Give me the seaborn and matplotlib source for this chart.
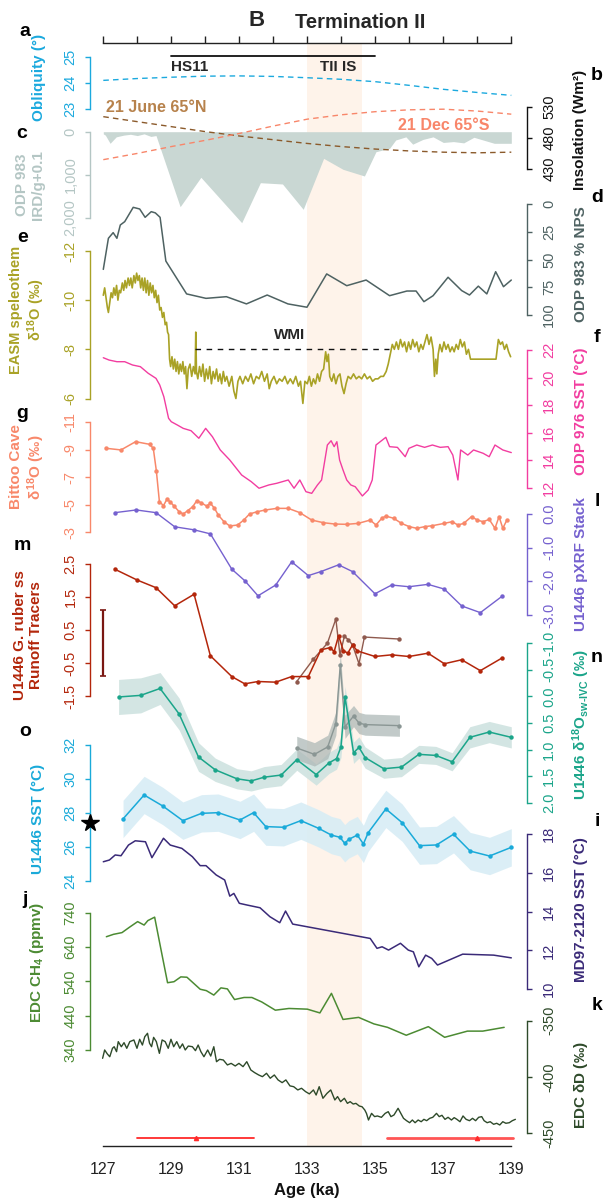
import numpy as np
import pandas as pd
import matplotlib
matplotlib.use("Agg")
import matplotlib.pyplot as plt
import matplotlib.transforms as mtransforms
import seaborn as sns

sns.set_style("white")
plt.rcParams['font.family'] = ['Liberation Sans', 'DejaVu Sans']
plt.rcParams['mathtext.fontset'] = 'custom'
plt.rcParams['mathtext.rm'] = 'Liberation Sans:bold'
plt.rcParams['mathtext.it'] = 'Liberation Sans:bold'
plt.rcParams['mathtext.bf'] = 'Liberation Sans:bold'
plt.rcParams['mathtext.sf'] = 'Liberation Sans:bold'
plt.rcParams['axes.unicode_minus'] = False

# ---------------- data ----------------
obl_age = [127, 128, 129, 130, 131, 132, 133, 134, 135, 136, 137, 138, 139]
obl_val = [24.10, 24.17, 24.22, 24.26, 24.27, 24.25, 24.20, 24.14, 24.05, 23.91, 23.76, 23.64, 23.53]

ins_age = [127, 128, 129, 130, 131, 132, 133, 134, 135, 136, 137, 138, 139]
june65n = [514, 506, 498, 490, 483, 477, 471, 466, 462, 459, 457, 456, 457]
dec65s = [445, 455, 466, 476, 487, 499, 510, 517, 522, 525, 526, 523, 518]

ird_age = [127.0, 127.06, 127.2, 127.38, 127.6, 127.8, 128.0, 128.2, 128.4, 128.55, 129.26, 129.87,
           131.07, 131.62, 132.27, 132.88, 133.48, 134.05, 134.68, 135.02, 135.42, 135.6, 135.9,
           136.1, 136.4, 136.7, 137.0, 137.3, 137.6, 137.9, 138.2, 138.5, 138.8, 139.0]
ird_val = [50, 80, 270, 120, 80, 60, 90, 50, 110, 90, 1744, 1060, 2116, 1186, 1216, 1805, 620, 875,
           1030, 465, 386, 193, 120, 290, 180, 120, 250, 230, 260, 130, 200, 270, 270, 270]

nps_age = [127.0, 127.15, 127.29, 127.4, 127.5, 127.63, 127.88, 128.07, 128.23, 128.41, 128.53, 128.67,
           128.84, 129.45, 130.02, 130.62, 131.21, 131.82, 132.43, 132.99, 133.57, 134.16, 134.73,
           135.42, 135.93, 136.2, 136.43, 136.7, 137.14, 137.54, 137.77, 138.03, 138.28, 138.54,
           138.77, 139.0]
nps_val = [58.9, 30.9, 25.8, 30.9, 18.9, 15.9, 3, 4.5, 12, 6.9, 8, 12, 51.4, 81, 85, 83.5, 90, 82, 90,
           93, 63, 73.6, 68.5, 82.6, 78.4, 78.4, 88, 82.6, 66, 78, 82, 74, 81, 61, 74.5, 68.5]

easm_age = [127.00, 127.04, 127.08, 127.12, 127.15, 127.19, 127.23, 127.27, 127.31, 127.35, 127.39,
            127.43, 127.47, 127.51, 127.56, 127.60, 127.64, 127.68, 127.73, 127.77, 127.81, 127.85,
            127.90, 127.94, 127.98, 128.02, 128.06, 128.10, 128.14, 128.18, 128.22, 128.26, 128.30,
            128.34, 128.38, 128.42, 128.46, 128.50, 128.54, 128.58, 128.62, 128.66, 128.70, 128.74,
            128.78, 128.82, 128.86, 128.89, 128.92, 128.95, 128.98, 129.02, 129.06, 129.10, 129.14,
            129.18, 129.22, 129.26, 129.30, 129.34, 129.38, 129.42, 129.46, 129.50, 129.55, 129.60,
            129.65, 129.70, 129.72, 129.74, 129.78, 129.83, 129.88, 129.93, 129.98, 130.03, 130.08,
            130.13, 130.18, 130.23, 130.28, 130.33, 130.38, 130.43, 130.48, 130.53, 130.58, 130.63,
            130.70, 130.78, 130.84, 130.90, 130.96, 131.02, 131.10, 131.18, 131.26, 131.34, 131.42,
            131.50, 131.58, 131.66, 131.74, 131.82, 131.88, 131.94, 132.02, 132.10, 132.18, 132.26,
            132.34, 132.42, 132.50, 132.58, 132.66, 132.74, 132.80, 132.87, 132.93, 133.00, 133.06,
            133.12, 133.18, 133.24, 133.30, 133.36, 133.42, 133.48, 133.54, 133.58, 133.62, 133.66,
            133.72, 133.78, 133.84, 133.90, 133.96, 134.02, 134.08, 134.14, 134.20, 134.28, 134.36,
            134.44, 134.52, 134.60, 134.68, 134.76, 134.84, 134.92, 135.00, 135.08, 135.16, 135.24,
            135.32, 135.38, 135.44, 135.50, 135.56, 135.62, 135.68, 135.74, 135.80, 135.86, 135.92,
            135.98, 136.04, 136.10, 136.16, 136.22, 136.28, 136.34, 136.40, 136.46, 136.52, 136.58,
            136.64, 136.70, 136.74, 136.78, 136.81, 136.85, 136.90, 136.96, 137.02, 137.08, 137.14,
            137.20, 137.26, 137.32, 137.38, 137.44, 137.50, 137.56, 137.62, 137.68, 137.74, 137.80,
            137.90, 138.00, 138.20, 138.40, 138.55, 138.62, 138.68, 138.74, 138.80, 138.86, 138.92,
            138.98]
easm_val = [-10.2, -10.5, -10.1, -9.7, -9.5, -9.9, -10.3, -10.1, -10.5, -10.2, -10.6,
            -10.0, -10.4, -10.3, -10.7, -10.4, -10.8, -10.5, -10.9, -10.6, -10.9, -10.5,
            -11.0, -10.7, -11.1, -10.8, -11.0, -10.5, -10.9, -10.4, -10.9, -10.3, -10.8,
            -10.2, -10.7, -10.3, -10.6, -10.1, -10.4, -9.9, -10.2, -9.6, -9.7, -9.3,
            -9.5, -9.0, -9.1, -8.7, -8.6, -7.6, -7.3, -7.7, -7.2, -7.6, -7.1,
            -7.5, -7.0, -7.4, -7.1, -7.5, -7.0, -7.3, -6.4, -7.2, -7.4, -6.9,
            -7.3, -7.0, -8.7, -7.1, -6.8, -7.3, -6.9, -7.4, -6.7, -7.2, -6.8,
            -7.3, -6.6, -7.1, -6.8, -7.2, -6.7, -7.0, -6.6, -7.1, -6.7, -6.9,
            -6.5, -6.9, -6.3, -6.0, -6.7, -6.9, -6.6, -6.9, -6.7, -7.0, -6.6,
            -6.9, -6.8, -7.1, -6.7, -7.0, -6.4, -6.7, -6.9, -6.6, -6.8, -6.7,
            -6.9, -6.6, -6.8, -6.6, -6.9, -6.5, -6.7, -5.8, -6.7, -6.6, -6.9,
            -6.5, -6.8, -6.6, -7.0, -6.7, -7.1, -7.2, -7.9, -7.5, -7.8, -6.9,
            -6.7, -7.0, -6.6, -6.9, -7.0, -6.5, -6.2, -6.6, -6.9, -6.8, -7.0,
            -6.8, -6.9, -6.8, -7.0, -6.8, -6.9, -6.7, -6.8, -6.8, -6.9, -6.9,
            -7.1, -7.4, -7.8, -8.2, -8.0, -8.3, -8.0, -8.4, -8.1, -8.3, -7.9,
            -8.3, -8.0, -8.4, -8.1, -8.3, -7.9, -8.2, -8.0, -8.3, -8.6, -8.2,
            -8.5, -8.0, -6.9, -7.6, -7.0, -7.8, -8.2, -7.9, -8.3, -8.0, -8.2,
            -7.9, -8.1, -7.9, -8.2, -8.0, -8.4, -8.1, -8.3, -7.8, -8.0, -7.6,
            -7.6, -7.6, -7.6, -7.6, -7.6, -8.4, -8.2, -8.3, -8.0, -8.2, -7.9,
            -7.7]
wmi_age = [129.7, 135.4]
wmi_val = [-8.0, -8.0]

sst976_age = [127.0, 127.17, 127.4, 127.63, 127.86, 128.09, 128.32, 128.55, 128.66, 128.78, 128.92,
              129.0, 129.18, 129.35, 129.58, 129.81, 130.01, 130.21, 130.44, 130.72, 131.07, 131.35,
              131.58, 131.87, 132.1, 132.44, 132.61, 132.78, 132.96, 133.13, 133.3, 133.42, 133.59,
              133.7, 133.79, 133.87, 133.95, 134.05, 134.16, 134.28, 134.41, 134.62, 134.79, 134.91,
              135.02, 135.31, 135.42, 135.65, 135.88, 135.99, 136.22, 136.45, 136.68, 136.91, 137.14,
              137.28, 137.43, 137.51, 137.72, 137.89, 138.17, 138.35, 138.52, 138.75, 139.0]
sst976_val = [21.44, 21.27, 21.15, 21.15, 20.91, 20.79, 20.31, 19.94, 19.46, 18.61, 17.04,
              16.79, 16.55, 16.31, 16.14, 15.59, 16.31, 15.7, 14.74, 14.01, 12.92, 12.44,
              11.96, 12.2, 12.32, 12.56, 11.96, 12.56, 11.71, 11.59, 12.2, 12.56, 15.1,
              15.41, 14.98, 15.34, 14.01, 13.29, 12.56, 12.2, 12.07, 11.4, 11.83, 12.56,
              15.1, 15.66, 14.98, 14.93, 14.25, 14.86, 15.1, 14.93, 15.1, 14.93, 14.98,
              14.37, 12.56, 14.74, 14.37, 14.74, 14.5, 14.25, 15.1, 14.74, 14.55]

bittoo_age = [127.08, 127.52, 127.95, 128.36, 128.47, 128.56, 128.65, 128.77, 128.87, 128.96, 129.08,
              129.23, 129.35, 129.48, 129.63, 129.75, 129.87, 130.04, 130.15, 130.27, 130.38, 130.55,
              130.72, 130.95, 131.13, 131.3, 131.53, 131.76, 132.1, 132.44, 132.78, 133.13, 133.47,
              133.81, 134.16, 134.5, 134.85, 135.02, 135.19, 135.31, 135.54, 135.77, 136.0, 136.22,
              136.45, 136.68, 137.03, 137.26, 137.43, 137.6, 137.83, 138.0, 138.17, 138.35, 138.52,
              138.64, 138.75, 138.87]
bittoo_val = [-9.11, -8.99, -9.59, -9.4, -9.11, -7.48, -5.23, -4.94, -5.4, -5.23, -4.91,
              -4.5, -4.33, -4.57, -4.86, -5.3, -5.16, -4.91, -5.11, -4.75, -4.26, -3.77,
              -3.46, -3.53, -3.89, -4.33, -4.5, -4.62, -4.74, -4.74, -4.43, -3.89, -3.7,
              -3.6, -3.58, -3.65, -3.89, -3.53, -4.02, -4.18, -4.02, -3.65, -3.41, -3.29,
              -3.41, -3.48, -3.65, -3.77, -3.53, -3.65, -4.14, -3.89, -3.77, -3.94, -3.29,
              -4.14, -3.29, -3.89]

pxrf_age = [127.34, 127.97, 128.55, 129.1, 129.67, 130.15, 130.78, 131.16, 131.55, 132.07, 132.54,
            133.03, 133.4, 133.92, 134.33, 134.99, 135.48, 135.99, 136.55, 137.03, 137.54, 138.09,
            138.72]
pxrf_val = [0.04, 0.12, 0.04, -0.38, -0.47, -0.59, -1.64, -1.98, -2.43, -2.11, -1.42,
            -1.83, -1.71, -1.51, -1.71, -2.37, -2.11, -2.16, -2.09, -2.23, -2.73, -2.93,
            -2.45]

runoff_age = [127.34, 128.0, 128.55, 129.1, 129.67, 130.15, 130.78, 131.16, 131.55, 132.07, 132.54,
              133.03, 133.4, 133.67, 133.79, 133.92, 134.06, 134.19, 134.33, 134.47, 134.99, 135.48,
              135.99, 136.55, 137.03, 137.54, 138.09, 138.72]
runoff_val = [2.35, 2.02, 1.79, 1.24, 1.59, -0.28, -0.91, -1.13, -1.06, -1.08, -0.91,
              -0.91, -0.1, -0.03, -0.15, 0.33, -0.12, -0.2, 0.05, -0.13, -0.3, -0.25,
              -0.3, -0.2, -0.52, -0.4, -0.73, -0.35]
runoff2_age = [132.69, 133.18, 133.59, 133.84, 133.96, 134.09, 134.21, 134.33, 134.52, 134.68, 135.71]
runoff2_val = [-1.06, -0.38, 0.1, 0.84, -0.25, 0.31, 0.21, 0.05, -0.52, 0.29, 0.23]
runoff_err = [1.12, -0.9]

dsw_age = [127.45, 128.1, 128.67, 129.23, 129.8, 130.29, 130.93, 131.35, 131.73, 132.23, 132.69,
           133.26, 133.64, 133.86, 133.99, 134.11, 134.36, 134.52, 134.7, 135.25, 135.77, 136.28,
           136.78, 137.26, 137.78, 138.35, 139.0]
dsw_val = [0.01, -0.02, -0.15, 0.33, 1.14, 1.38, 1.55, 1.59, 1.52, 1.48, 1.19,
           1.47, 1.25, 1.17, 0.95, 0.01, 1.06, 0.96, 1.15, 1.36, 1.33, 1.09,
           1.11, 1.23, 0.77, 0.67, 0.77]
dsw_err = [0.33, 0.33, 0.3, 0.3, 0.27, 0.22, 0.19, 0.19, 0.2, 0.2, 0.2,
           0.2, 0.2, 0.2, 0.2, 0.2, 0.2, 0.2, 0.2, 0.18, 0.18, 0.17,
           0.17, 0.17, 0.2, 0.2, 0.2]
dsw2_age = [132.69, 133.21, 133.6, 133.84, 133.97, 134.11, 134.36, 134.52, 134.7, 135.71]
dsw2_val = [0.97, 1.09, 0.95, 0.51, -0.6, 0.57, 0.37, 0.5, 0.53, 0.55]
dsw2_err = [0.22, 0.22, 0.22, 0.22, 0.22, 0.22, 0.2, 0.2, 0.2, 0.2]

sst1446_age = [127.58, 128.2, 128.75, 129.34, 129.89, 130.38, 131.02, 131.42, 131.78, 132.3, 132.81,
               133.33, 133.71, 133.96, 134.1, 134.22, 134.47, 134.65, 134.79, 135.31, 135.79, 136.3,
               136.8, 137.3, 137.79, 138.36, 139.0]
sst1446_val = [27.65, 29.06, 28.41, 27.55, 27.98, 28.02, 27.59, 28.02, 27.2, 27.16, 27.55,
               27.1, 26.7, 26.57, 26.22, 26.45, 26.7, 26.18, 26.84, 28.24, 27.43, 26.08,
               26.12, 26.75, 25.76, 25.47, 25.98]
sst1446_err = [1.1] * 27
sst_modern = [27.4]

md97_age = [127.0, 127.18, 127.35, 127.52, 127.74, 127.94, 128.24, 128.43, 128.77, 128.97, 129.31,
            129.62, 129.85, 130.02, 130.32, 130.57, 130.72, 130.84, 131.0, 131.23, 131.61, 131.9,
            132.19, 132.36, 132.57, 134.85, 135.05, 135.2, 135.39, 135.74, 135.97, 136.12, 136.28,
            136.48, 136.66, 136.83, 137.57, 138.48, 139.0]
md97_val = [16.57, 16.66, 16.92, 16.88, 17.43, 17.65, 17.6, 16.78, 17.78, 17.43, 17.26,
            16.83, 16.37, 16.37, 15.89, 15.63, 14.8, 14.94, 14.43, 14.34, 14.2, 13.74,
            13.43, 14.03, 13.36, 12.62, 12.11, 12.19, 12.02, 12.37, 12.02, 11.93, 11.16,
            11.76, 11.59, 11.25, 11.81, 11.76, 11.62]

ch4_age = [127.09, 127.3, 127.55, 127.76, 128.01, 128.2, 128.31, 128.51, 128.68, 128.89, 129.08,
           129.28, 129.46, 129.85, 130.03, 130.25, 130.46, 130.65, 130.86, 131.14, 131.37, 131.66,
           132.06, 132.46, 133.0, 133.37, 133.71, 134.05, 134.51, 134.96, 135.36, 135.91, 136.56,
           137.04, 137.71, 138.16, 138.79]
ch4_val = [670, 677, 682, 697, 714, 704, 717, 727, 641, 536, 539,
           553, 552, 517, 513, 500, 521, 518, 487, 493, 493, 480,
           456, 461, 459, 448, 505, 429, 435, 416, 406, 383, 408,
           377, 395, 395, 406]

dd_age = [126.98, 127.04, 127.12, 127.19, 127.27, 127.32, 127.39, 127.44, 127.53, 127.61, 127.69,
          127.78, 127.9, 127.99, 128.07, 128.15, 128.22, 128.3, 128.36, 128.42, 128.48, 128.56,
          128.65, 128.73, 128.82, 128.91, 128.99, 129.07, 129.16, 129.25, 129.33, 129.41, 129.5,
          129.62, 129.71, 129.79, 129.87, 129.96, 130.07, 130.16, 130.25, 130.33, 130.42, 130.53,
          130.65, 130.76, 130.88, 130.99, 131.11, 131.22, 131.34, 131.45, 131.57, 131.68, 131.8,
          131.91, 132.03, 132.14, 132.26, 132.37, 132.49, 132.6, 132.72, 132.83, 132.95, 133.06,
          133.18, 133.26, 133.35, 133.46, 133.58, 133.69, 133.81, 133.89, 133.98, 134.09, 134.18,
          134.26, 134.35, 134.43, 134.53, 134.61, 134.69, 134.74, 134.8, 134.89, 134.98, 135.06,
          135.18, 135.29, 135.38, 135.46, 135.55, 135.67, 135.75, 135.83, 135.92, 136.01, 136.09,
          136.17, 136.26, 136.35, 136.43, 136.51, 136.6, 136.69, 136.8, 136.88, 136.96, 137.05,
          137.14, 137.24, 137.32, 137.4, 137.49, 137.58, 137.67, 137.77, 137.86, 137.95, 138.04,
          138.13, 138.2, 138.29, 138.38, 138.48, 138.57, 138.66, 138.75, 138.84, 138.94, 139.03,
          139.12]
dd_val = [-383.4, -376, -379.6, -382, -374.5, -373.1, -377.5, -368.6, -373.1, -369.5, -374.5,
          -368.6, -367.1, -374.5, -366.5, -371.6, -364.2, -361.2, -370.0, -373.1, -364.8, -368.6,
          -379, -367.1, -368.6, -374.5, -366.5, -373.1, -368.6, -374.5, -370.6, -376, -372.5,
          -373.1, -376.6, -371.6, -377.5, -382, -376, -381.4, -373.1, -386.4, -384.3, -384.9,
          -389.3, -387.9, -390.2, -387.9, -390.8, -386.4, -393.8, -396.1, -398.2, -399.7, -396.7,
          -401.1, -398.2, -402.6, -405, -402.6, -407.9, -408.6, -411.5, -410, -413, -415,
          -411.5, -416, -408.6, -418.9, -414.5, -411.5, -420.4, -417.4, -421.9, -418.9, -423.4,
          -421.9, -424, -423.4, -425.8, -426.4, -429.3, -432.3, -438.2, -432.3, -435.2, -434.6,
          -435.8, -432.3, -430.8, -435.2, -433.7, -427.8, -432.3, -436.7, -438.8, -440.6, -438.2,
          -440.6, -438.2, -439.7, -437.6, -438.8, -436.7, -435.8, -432.3, -435.2, -434, -437.6,
          -435.8, -438.2, -436.1, -437.6, -439.7, -434.6, -437.6, -438.8, -436.7, -438.8, -435.8,
          -435.2, -438.8, -440.6, -439.7, -442, -441.1, -442.6, -439.7, -441.1, -440.6, -438.8,
          -437.6]

agebar1 = [128.0, 129.73, 131.43]
agebar2 = [135.35, 137.98, 139.05]
shade_span = [133.0, 134.6]
hs11_span = [129.0, 135.0]
x_ticks = list(range(127, 140))

# ---------------- colours ----------------
C_OBL = '#1BA9DE'
C_JUNE = '#8B5A2B'
C_JUNE_T = '#B7824C'
C_DEC = '#F8866A'
C_IRD = '#C9D7D3'
C_IRD_AX = '#B4C6C4'
C_NPS = '#4E6262'
C_EASM = '#A9A226'
C_976 = '#F23DA0'
C_BIT = '#F8886A'
C_PXRF = '#7561CF'
C_RUN = '#B3260B'
C_RUN2 = '#8F5A4E'
C_ERR = '#7A1712'
C_DSW = '#1BA58A'
C_DSW_B = '#CFE3E0'
C_DSW2 = '#8A9694'
C_DSW2_B = '#AEB9B7'
C_SST = '#1AAAD9'
C_SST_B = '#D8EDF5'
C_MD = '#3A2A78'
C_CH4 = '#4C8B33'
C_DD = '#2E4A2A'
C_SHADE = '#FEF3EA'
C_BAR = '#FF2A2A'

# ---------------- geometry ----------------
W, H = 608, 1204
fig = plt.figure(figsize=(W / 100, H / 100), dpi=100)
X0_PX, X1_PX = 103.3, 511.3
PX = (X1_PX - X0_PX) / 12.0
XLIM = (127 - X0_PX / PX, 139 + (W - X1_PX) / PX)
LEFT_X, RIGHT_X = 90, 527
TFS = 10.5
LFS = 11

def new_ax():
    ax = fig.add_axes([0, 0, 1, 1])
    ax.patch.set_alpha(0)
    for s in ax.spines.values():
        s.set_visible(False)
    ax.set_xlim(XLIM)
    ax.set_xticks([])
    ax.set_yticks([])
    return ax

def set_y(ax, v0, y0, v1, y1):
    k = (y1 - y0) / (v1 - v0)
    top = v0 + (0 - y0) / k
    bottom = v0 + (H - y0) / k
    ax.set_xlim(XLIM)
    ax.set_ylim(bottom, top)

def yaxis(ax, side, ticks, labels, color):
    sp = ax.spines[side]
    sp.set_visible(True)
    sp.set_position(('axes', (LEFT_X if side == 'left' else RIGHT_X) / W))
    sp.set_bounds(min(ticks), max(ticks))
    sp.set_color(color)
    sp.set_linewidth(1.0)
    ax.set_yticks(ticks)
    ax.set_yticklabels(labels)
    if side == 'left':
        ax.yaxis.tick_left()
        pad = 5.5
    else:
        ax.yaxis.tick_right()
        pad = 7.5
    ax.tick_params(axis='y', colors=color, length=3.4, width=1.0, direction='out',
                   labelsize=TFS, pad=pad)
    for t in ax.get_yticklabels():
        t.set_rotation(90)
        t.set_va('center')
    ax.set_xlabel('')
    ax.set_ylabel('')

def ftext(x, y, s, **kw):
    kw.setdefault('ha', 'center')
    kw.setdefault('va', 'center')
    fig.text(x / W, 1 - y / H, s, **kw)

def line(ax, x, y, color, lw=1.0, **kw):
    sns.lineplot(x=x, y=y, ax=ax, color=color, linewidth=lw, estimator=None,
                 sort=False, legend=False, **kw)

# ---------------- shading + axes frame ----------------
axb = new_ax()
axb.set_ylim(0, 1)
axb.axvspan(shade_span[0], shade_span[1], ymin=1 - 1146 / H, ymax=1 - 42.7 / H,
            color=C_SHADE, lw=0, zorder=0)
sp = axb.spines['bottom']
sp.set_visible(True)
sp.set_position(('axes', 1 - 1146 / H))
sp.set_bounds(127, 139)
sp.set_linewidth(1.0)
sp.set_color('#222222')
axb.set_xticks(x_ticks)
axb.set_xticklabels([str(t) if t % 2 == 1 else '' for t in x_ticks])
axb.tick_params(axis='x', length=5.3, width=1.0, direction='out', labelsize=11.5,
                pad=6.5, colors='#222222')
axt = new_ax()
sp = axt.spines['top']
sp.set_visible(True)
sp.set_position(('axes', 1 - 42.7 / H))
sp.set_bounds(127, 139)
sp.set_linewidth(1.0)
sp.set_color('#222222')
axt.xaxis.tick_top()
axt.set_xticks(x_ticks)
axt.set_xticklabels([])
axt.tick_params(axis='x', length=4.8, width=1.0, direction='out', colors='#222222')

# ---------------- c: IRD ----------------
ax = new_ax()
ax.fill_between(ird_age, 0, ird_val, color=C_IRD, lw=0)
set_y(ax, 0, 131.7, 2000, 217.7)
yaxis(ax, 'left', [0, 1000, 2000], ['0', '1,000', '2,000'], C_IRD_AX)

# ---------------- a: obliquity ----------------
ax = new_ax()
line(ax, obl_age, obl_val, C_OBL, lw=1.0, linestyle=(0, (4, 3)))
set_y(ax, 25, 56.7, 23, 109.3)
yaxis(ax, 'left', [23, 24, 25], ['23', '24', '25'], C_OBL)

# ---------------- b: insolation ----------------
ax = new_ax()
line(ax, ins_age, june65n, C_JUNE, lw=1.0, linestyle=(0, (4, 3)))
line(ax, ins_age, dec65s, C_DEC, lw=1.0, linestyle=(0, (4, 3)))
set_y(ax, 530, 106.7, 430, 169.0)
yaxis(ax, 'right', [430, 480, 530], ['430', '480', '530'], '#111111')

# ---------------- d: NPS ----------------
ax = new_ax()
line(ax, nps_age, nps_val, C_NPS, lw=1.1)
set_y(ax, 0, 204, 100, 315)
yaxis(ax, 'right', [0, 25, 50, 75, 100], ['0', '25', '50', '75', '100'], C_NPS)

# ---------------- e: EASM ----------------
ax = new_ax()
line(ax, easm_age, easm_val, C_EASM, lw=1.2)
line(ax, wmi_age, wmi_val, '#111111', lw=1.0, linestyle=(0, (4, 4)))
set_y(ax, -12, 251, -6, 398.5)
yaxis(ax, 'left', [-12, -10, -8, -6], ['-12', '-10', '-8', '-6'], C_EASM)

# ---------------- f: ODP 976 SST ----------------
ax = new_ax()
line(ax, sst976_age, sst976_val, C_976, lw=1.0)
set_y(ax, 22, 350, 12, 487.7)
yaxis(ax, 'right', [12, 14, 16, 18, 20, 22], ['12', '14', '16', '18', '20', '22'], C_976)

# ---------------- g: Bittoo ----------------
ax = new_ax()
line(ax, bittoo_age, bittoo_val, C_BIT, lw=1.1, marker='o', markersize=3.2,
     markeredgewidth=0)
set_y(ax, -11, 422.3, -3, 532.3)
yaxis(ax, 'left', [-11, -9, -7, -5, -3], ['-11', '-9', '-7', '-5', '-3'], C_BIT)

# ---------------- l: pXRF ----------------
ax = new_ax()
line(ax, pxrf_age, pxrf_val, C_PXRF, lw=1.0, marker='o', markersize=3.2,
     markeredgewidth=0)
set_y(ax, 0, 514, -3, 615)
yaxis(ax, 'right', [-3, -2, -1, 0], ['-3.0', '-2.0', '-1.0', '0.0'], C_PXRF)

# ---------------- n: d18Osw ----------------
ax = new_ax()
lo = [v - e for v, e in zip(dsw_val, dsw_err)]
hi = [v + e for v, e in zip(dsw_val, dsw_err)]
ax.fill_between(dsw_age, lo, hi, color=C_DSW_B, lw=0, alpha=0.9)
lo2 = [v - e for v, e in zip(dsw2_val, dsw2_err)]
hi2 = [v + e for v, e in zip(dsw2_val, dsw2_err)]
ax.fill_between(dsw2_age, lo2, hi2, color=C_DSW2_B, lw=0, alpha=0.75)
line(ax, dsw2_age, dsw2_val, C_DSW2, lw=1.0, marker='o', markersize=3.2, markeredgewidth=0)
line(ax, dsw_age, dsw_val, C_DSW, lw=1.1, marker='o', markersize=3.2, markeredgewidth=0)
set_y(ax, -1.0, 643.3, 2.0, 802.7)
yaxis(ax, 'right', [-1.0, -0.5, 0.0, 0.5, 1.0, 1.5, 2.0],
      ['-1.0', '-0.5', '0.0', '0.5', '1.0', '1.5', '2.0'], C_DSW)

# ---------------- m: runoff ----------------
ax = new_ax()
line(ax, runoff2_age, runoff2_val, C_RUN2, lw=1.0, marker='o', markersize=3.2, markeredgewidth=0)
line(ax, runoff_age, runoff_val, C_RUN, lw=1.1, marker='o', markersize=3.2, markeredgewidth=0)
ax.errorbar([127.0], [(runoff_err[0] + runoff_err[1]) / 2],
            yerr=[[(runoff_err[0] - runoff_err[1]) / 2]], color=C_ERR, lw=1.6,
            capsize=2.5, capthick=1.2, fmt='none')
set_y(ax, 2.5, 564.3, -1.5, 696)
yaxis(ax, 'left', [-1.5, -0.5, 0.5, 1.5, 2.5], ['-1.5', '-0.5', '0.5', '1.5', '2.5'], C_RUN)

# ---------------- o: U1446 SST ----------------
ax = new_ax()
lo = [v - e for v, e in zip(sst1446_val, sst1446_err)]
hi = [v + e for v, e in zip(sst1446_val, sst1446_err)]
ax.fill_between(sst1446_age, lo, hi, color=C_SST_B, lw=0, alpha=0.9)
line(ax, sst1446_age, sst1446_val, C_SST, lw=1.1, marker='o', markersize=3.2, markeredgewidth=0)
ax.plot([127 - 13.3 / PX], sst_modern, marker='*', color='black', markersize=13, clip_on=False,
        zorder=10)
set_y(ax, 32, 745, 24, 881)
yaxis(ax, 'left', [24, 26, 28, 30, 32], ['24', '26', '28', '30', '32'], C_SST)

# ---------------- i: MD97-2120 ----------------
ax = new_ax()
line(ax, md97_age, md97_val, C_MD, lw=1.1)
set_y(ax, 18, 834, 10, 989.3)
yaxis(ax, 'right', [10, 12, 14, 16, 18], ['10', '12', '14', '16', '18'], C_MD)

# ---------------- j: CH4 ----------------
ax = new_ax()
line(ax, ch4_age, ch4_val, C_CH4, lw=1.1)
set_y(ax, 740, 912.7, 340, 1050)
yaxis(ax, 'left', [340, 440, 540, 640, 740], ['340', '440', '540', '640', '740'], C_CH4)

# ---------------- k: dD ----------------
ax = new_ax()
line(ax, dd_age, dd_val, C_DD, lw=1.0)
set_y(ax, -350, 1020.7, -450, 1133.3)
yaxis(ax, 'right', [-450, -400, -350], ['-450', '-400', '-350'], C_DD)

# ---------------- age error bars ----------------
tr = mtransforms.blended_transform_factory(axb.transData, fig.transFigure)
ybar = 1 - 1138.3 / H
axb.plot([agebar1[0], agebar1[2]], [ybar, ybar], color=C_BAR, lw=1.3, transform=tr)
axb.plot([agebar1[1]], [ybar], marker='^', color=C_BAR, markersize=3, transform=tr)
axb.plot([agebar2[0], agebar2[2]], [ybar, ybar], color=C_BAR, lw=2.0, alpha=0.8, transform=tr)
axb.plot([agebar2[1]], [ybar], marker='^', color=C_BAR, markersize=3, transform=tr)

axb.plot(hs11_span, [1 - 56 / H] * 2, color='#111111', lw=1.3, transform=tr)

# ---------------- texts ----------------
ftext(257, 21, 'B', fontsize=16, fontweight='bold')
ftext(360, 22, 'Termination II', fontsize=14.5, fontweight='bold')
ftext(171, 67, 'HS11', fontsize=11, fontweight='bold', ha='left')
ftext(338, 67, 'TII IS', fontsize=11, fontweight='bold')
ftext(290, 335, 'WMI', fontsize=11, fontweight='bold')
ftext(106, 108, '21 June 65°N', fontsize=11.5, fontweight='bold', color=C_JUNE_T, ha='left')
ftext(489, 125, '21 Dec 65°S', fontsize=11.5, fontweight='bold', color=C_DEC, ha='right')

letters = [('a', 25, 32), ('b', 597, 75), ('c', 22, 133), ('d', 597, 198), ('e', 23, 238),
           ('f', 597, 337), ('g', 22, 414), ('l', 597, 502), ('m', 22, 546), ('n', 597, 657),
           ('o', 25, 731), ('i', 597, 822), ('j', 25, 900), ('k', 597, 1006)]
for s, x, y in letters:
    ftext(x, y, s, fontsize=14, fontweight='bold', color='black')

lab = dict(fontsize=LFS, fontweight='bold', rotation=90, multialignment='center')
ftext(39, 77, 'Obliquity (°)', color=C_OBL, **lab)
ftext(30, 185, 'ODP 983\nIRD/g+0.1', color=C_IRD_AX, **lab)
lab_e = dict(lab)
lab_e['fontsize'] = 10.5
ftext(28, 310, 'EASM speleothem\n$\\delta^{18}$O (‰)', color=C_EASM, **lab_e)
ftext(28, 467, 'Bittoo Cave\n$\\delta^{18}$O (‰)', color=C_BIT, **lab)
ftext(28, 635, 'U1446 G. ruber ss\nRunoff Tracers', color=C_RUN, **lab)
ftext(38, 819, 'U1446 SST (°C)', color=C_SST, **lab)
ftext(37, 962, 'EDC CH$_4$ (ppmv)', color=C_CH4, **lab)

ftext(580, 130, 'Insolation (Wm²)', color='#111111', **lab)
ftext(581, 264, 'ODP 983 % NPS', color=C_NPS, **lab)
ftext(581, 411, 'ODP 976 SST (°C)', color=C_976, **lab)
ftext(581, 564, 'U1446 pXRF Stack', color=C_PXRF, **lab)
ftext(581, 725, 'U1446 $\\delta^{18}$O$_{\\text{sw-IVC}}$ (‰)', color=C_DSW, **lab)
ftext(581, 910, 'MD97-2120 SST (°C)', color=C_MD, **lab)
ftext(581, 1085, 'EDC $\\delta$D (‰)', color=C_DD, **lab)
ftext(307, 1191, 'Age (ka)', fontsize=12, fontweight='bold', color='#111111')

fig.savefig('out.png', dpi=100)
